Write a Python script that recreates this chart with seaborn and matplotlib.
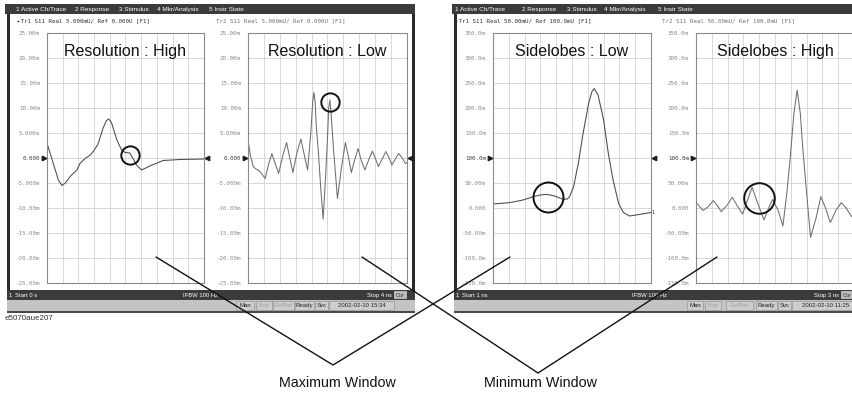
import numpy as np
import pandas as pd
import matplotlib
matplotlib.use("Agg")
import matplotlib.pyplot as plt
from matplotlib.patches import Rectangle
import seaborn as sns

sns.set_style("white")
plt.rcParams["font.family"] = ["Liberation Sans", "DejaVu Sans"]
MONO = ["DejaVu Sans Mono", "DejaVu Sans"]

W, H = 853, 393  # figure size in pixels

# ---------------- traces (t in ns, value in mU) ----------------
res_high_t = [0.00, 0.08, 0.16, 0.29, 0.38, 0.47, 0.59, 0.76, 0.84, 0.97, 1.10, 1.18,
              1.30, 1.43, 1.51, 1.56, 1.61, 1.65, 1.78, 1.90, 1.99, 2.11, 2.20, 2.28,
              2.41, 2.62, 2.96, 3.39, 4.00]
res_high_v = [2.9, 1.0, -1.1, -4.4, -5.5, -5.0, -3.7, -2.4, -1.1, -0.1, 0.6, 1.3,
              2.8, 6.0, 7.4, 7.8, 7.5, 6.9, 3.6, 1.6, 1.1, 1.0, -0.2, -1.4,
              -2.4, -1.6, -0.5, -0.3, -0.2]

res_low_t = [0.00, 0.06, 0.13, 0.20, 0.26, 0.35, 0.43, 0.51, 0.60, 0.68, 0.77, 0.87,
             0.97, 1.05, 1.13, 1.23, 1.33, 1.42, 1.50, 1.58, 1.63, 1.66, 1.69, 1.72,
             1.77, 1.83, 1.89, 1.95, 2.00, 2.03, 2.06, 2.09, 2.15, 2.25, 2.35, 2.45,
             2.52, 2.60, 2.68, 2.77, 2.85, 2.94, 3.03, 3.13, 3.20, 3.28, 3.37, 3.47,
             3.55, 3.62, 3.70, 3.79, 3.88, 3.96, 4.00]
res_low_v = [3.6, 0.5, -1.7, -2.2, -2.4, -3.2, -4.1, -1.5, 0.9, -1.0, -3.1, 0.3,
             3.1, 0.0, -2.9, 1.0, 3.8, 0.5, -2.4, 5.0, 11.5, 13.1, 11.0, 6.0,
             1.3, -6.0, -12.2, -4.0, 4.0, 10.0, 11.6, 9.0, 1.9, -8.1, -2.0, 3.1,
             0.5, -2.9, -0.5, 1.9, -0.5, -2.4, -0.5, 1.4, 0.0, -1.7, -0.3, 1.3,
             0.0, -1.4, -0.3, 0.9, 0.0, -1.1, -0.9]

side_low_t = [1.00, 1.21, 1.38, 1.51, 1.60, 1.68, 1.78, 1.89, 1.94, 1.97, 2.02, 2.08,
              2.14, 2.21, 2.25, 2.28, 2.33, 2.40, 2.46, 2.52, 2.59, 2.65, 2.73, 2.85,
              3.00]
side_low_v = [8, 10.7, 16, 22.7, 26, 27.3, 24, 17.3, 18, 22.7, 42.7, 89.3,
              149, 209, 232, 239, 226, 176, 109, 56, 9.3, -9, -16, -13,
              -9]

side_high_t = [1.00, 1.05, 1.09, 1.15, 1.22, 1.27, 1.32, 1.39, 1.46, 1.52, 1.59, 1.65,
               1.71, 1.78, 1.86, 1.92, 1.97, 2.04, 2.10, 2.15, 2.19, 2.24, 2.28, 2.32,
               2.35, 2.40, 2.45, 2.52, 2.58, 2.64, 2.70, 2.77, 2.84, 2.90, 2.97, 3.00]
side_high_v = [12, 2, -5, 2, 14.7, 5, -7.3, 5, 21.3, 5, -12, 15,
               41.3, 10, -24, 0, 17.3, -5, -36, 30, 96, 190, 236, 190,
               122.7, 30, -58.7, -20, 22.7, 0, -29.3, -5, 10.7, 0, -17.3, -14]

# y scale labels as shown on the analyser
left_ticks = [25, 20, 15, 10, 5, 0, -5, -10, -15, -20, -25]
left_tick_labels = ["25.00m", "20.00m", "15.00m", "10.00m", "5.000m", "0.000",
                    "-5.000m", "-10.00m", "-15.00m", "-20.00m", "-25.00m"]
right_ticks = [350, 300, 250, 200, 150, 100, 50, 0, -50, -100, -150]
right_tick_labels = ["350.0m", "300.0m", "250.0m", "200.0m", "150.0m", "100.0m",
                     "50.00m", "0.000", "-50.00m", "-100.0m", "-150.0m"]

titles = ["Resolution : High", "Resolution : Low", "Sidelobes : Low", "Sidelobes : High"]
# circled features (t, value)
circle_t = [2.11, 2.06, 1.70, 1.80]
circle_v = [0.6, 11.3, 22.6, 19.4]


def px_rect(x0, y0, x1, y1):
    return [x0 / W, 1 - y1 / H, (x1 - x0) / W, (y1 - y0) / H]


fig = plt.figure(figsize=(W / 100, H / 100), dpi=100)
fig.patch.set_facecolor("white")

bg = fig.add_axes([0, 0, 1, 1], zorder=0, label="bg")
fg = fig.add_axes([0, 0, 1, 1], zorder=10, label="fg")
for a in (bg, fg):
    a.set_xlim(0, W)
    a.set_ylim(H, 0)
    a.axis("off")
fg.patch.set_alpha(0)

DARK = "#3b3b3b"


# ---------------- instrument screen chrome ----------------
def screen(x0, x1, menu_x, hdr, status, bar_items, ibfw_x, stop_x, cor_x):
    bg.add_patch(Rectangle((x0 - 2, 3.5), x1 - x0 + 2, 10.5, color=DARK, lw=0))
    bg.add_patch(Rectangle((x0, 14), 2.6, 276, color="#2a2a2a", lw=0))
    bg.add_patch(Rectangle((x1 - 2.6, 14), 2.6, 276, color="#2a2a2a", lw=0))
    bg.add_patch(Rectangle((x0, 290), x1 - x0, 9.5, color=DARK, lw=0))
    bg.add_patch(Rectangle((x0, 299.5), x1 - x0, 11.8, color="#c4c4c4", lw=0))
    bg.add_patch(Rectangle((x0, 311.2), x1 - x0, 1.3, color="#4a4a4a", lw=0))
    for x, s in zip(menu_x, ["1 Active Ch/Trace", "2 Response", "3 Stimulus",
                             "4 Mkr/Analysis", "5 Instr State"]):
        bg.text(x, 11.2, s, color="white", fontsize=4.6, va="baseline", ha="left")
    for (x, s, c) in hdr:
        bg.text(x, 22.5, s, color=c, fontsize=4.2, family=MONO, va="baseline", ha="left")
    bg.text(x0 + 2, 297, "1", color="white", fontsize=4.2, va="baseline")
    bg.text(x0 + 8, 297, status[0], color="white", fontsize=4.2, va="baseline")
    bg.text(ibfw_x, 297, "IFBW 100 Hz", color="white", fontsize=4.2, va="baseline", ha="center")
    bg.text(stop_x, 297, status[1], color="white", fontsize=4.2, va="baseline", ha="right")
    bg.add_patch(Rectangle((cor_x, 291.2), 12, 7, facecolor="#bdbdbd", edgecolor="#e0e0e0", lw=0.4))
    bg.text(cor_x + 6, 297, "Cor", color="#333333", fontsize=4.0, va="baseline", ha="center")
    for (s, xa, xb, c) in bar_items:
        bg.add_patch(Rectangle((xa, 300.6), xb - xa, 9.4, facecolor="#cdcdcd",
                               edgecolor="#8a8a8a", lw=0.4))
        bg.text((xa + xb) / 2, 307.3, s, color=c, fontsize=4.3, va="baseline", ha="center")


GREY_TXT = "#a0a0a0"
screen(7, 415, [16, 75, 119, 157, 209],
       [(17, "\u25b8Tr1 S11 Real 5.000mU/ Ref 0.000U [F1]", "#303030"),
        (216, "Tr2 S11 Real 5.000mU/ Ref 0.000U [F1]", "#707070")],
       ["Start 0 s", "Stop 4 ns"],
       [("Man", 236, 254, "#202020"), ("Stop", 256, 272, GREY_TXT),
        ("ExtRef", 273, 294, GREY_TXT), ("Ready", 295, 314, "#202020"),
        ("Svc", 315, 328, "#202020"), ("2002-02-10 15:34", 329, 394, "#202020")],
       201, 392, 394)
screen(454, 870, [455, 522, 567, 604, 658],
       [(455, "\u25b8Tr1 S11 Real 50.00mU/ Ref 100.0mU [F1]", "#303030"),
        (662, "Tr2 S11 Real 50.00mU/ Ref 100.0mU [F1]", "#707070")],
       ["Start 1 ns", "Stop 3 ns"],
       [("Man", 687, 703, "#202020"), ("Stop", 705, 721, GREY_TXT),
        ("ExtRef", 726, 753, GREY_TXT), ("Ready", 756, 777, "#202020"),
        ("Svc", 778, 791, "#202020"), ("2002-02-10 11:25", 792, 860, "#202020")],
       650, 839, 841)

# ---------------- the four traces ----------------
panels = [
    dict(box=(47, 33, 204, 283), t=res_high_t, v=res_high_v, span=(0, 4), lim=(-25, 25),
         ticks=left_ticks, labels=left_tick_labels, ref=0, color="#4a4a4a", right=True, ms=13.2),
    dict(box=(248, 33, 407, 283), t=res_low_t, v=res_low_v, span=(0, 4), lim=(-25, 25),
         ticks=left_ticks, labels=left_tick_labels, ref=0, color="#6e6e6e", right=True, ms=13.2),
    dict(box=(493, 33, 651, 283), t=side_low_t, v=side_low_v, span=(1, 3), lim=(-150, 350),
         ticks=right_ticks, labels=right_tick_labels, ref=100, color="#484848", right=True, ms=21.6),
    dict(box=(696, 33, 854, 283), t=side_high_t, v=side_high_v, span=(1, 3), lim=(-150, 350),
         ticks=right_ticks, labels=right_tick_labels, ref=100, color="#6e6e6e", right=False, ms=22.0),
]

for i, p in enumerate(panels):
    ax = fig.add_axes(px_rect(*p["box"]), zorder=2, label=f"trace{i}")
    df = pd.DataFrame({"t": p["t"], "v": p["v"]})
    sns.lineplot(data=df, x="t", y="v", ax=ax, color=p["color"], linewidth=0.75)
    ax.set_xlim(*p["span"])
    ax.set_ylim(*p["lim"])
    ax.set_xticks(np.linspace(p["span"][0], p["span"][1], 11))
    ax.set_xticklabels([])
    ax.set_yticks(p["ticks"])
    ax.set_yticklabels(p["labels"], family=MONO, fontsize=4.2)
    for lab, val in zip(ax.get_yticklabels(), p["ticks"]):
        lab.set_color("#404040" if val == p["ref"] else "#8c8c8c")
    ax.tick_params(length=0, pad=5)
    ax.grid(True, color="#d8d8d8", linewidth=0.7)
    ax.set_axisbelow(True)
    ax.set_xlabel("")
    ax.set_ylabel("")
    for sp in ax.spines.values():
        sp.set_color("#8a8a8a")
        sp.set_linewidth(0.8)
    tr = ax.get_yaxis_transform()
    ax.plot([-0.022], [p["ref"]], marker=">", ms=3.2, color="#1e1e1e",
            transform=tr, clip_on=False)
    if p["right"]:
        ax.plot([1.022], [p["ref"]], marker="<", ms=3.2, color="#1e1e1e",
                transform=tr, clip_on=False)
    if i == 2:
        ax.text(1.004, p["v"][-1], "1", transform=tr, fontsize=3.8, color="#333333",
                va="center", ha="left", family=MONO)
    # circled feature
    ax.plot([circle_t[i]], [circle_v[i]], marker="o", ms=p["ms"], mfc="none",
            mec="#111111", mew=1.4, clip_on=False)
    ax.text(0.5, 0.925, titles[i], transform=ax.transAxes, fontsize=11.5,
            color="#111111", ha="center", va="center")

# ---------------- callouts ----------------
fg.plot([156, 333, 510], [257, 365, 257], color="#111111", lw=1.0)
fg.plot([362, 538, 717], [257, 373, 257], color="#111111", lw=1.0)
fg.text(337, 383, "Maximum Window", fontsize=10.3, color="#111111", ha="center", va="center")
fg.text(540, 383, "Minimum Window", fontsize=10.3, color="#111111", ha="center", va="center")
fg.text(5, 318, "e5070aue207", fontsize=5.8, color="#333333", ha="left", va="center")

fig.savefig("out.png", dpi=100)
